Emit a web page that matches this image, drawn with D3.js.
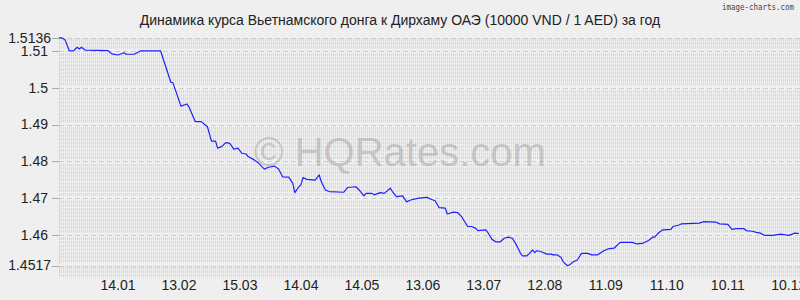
<!DOCTYPE html>
<html><head><meta charset="utf-8">
<script src="https://cdn.jsdelivr.net/npm/d3@7"></script>
<style>html,body{margin:0;padding:0;background:#efefef;}svg{display:block;}</style>
</head><body>
<script>
const titleText = "Динамика курса Вьетнамского донга к Дирхаму ОАЭ (10000 VND / 1 AED) за год";
const watermark = "© HQRates.com";
const brand = "image-charts.com";
// day offsets from 16.12 of previous year
const days = [0,2,3,5,7,9,10,11,13,24,
 26,29,32,33,37,40,50,55,56,60,
 63,64,67,70,73,75,77,78,80,82,
 84,86,88,90,92,93,96,98,101,103,
 106,108,110,113,115,116,118,119,120,122,
 126,128,129,131,133,140,142,146,148,150,
 151,154,155,158,160,163,164,166,169,171,
 173,177,181,183,185,187,190,191,194,196,
 198,201,203,205,206,210,211,213,215,217,
 219,221,223,225,227,228,230,231,233,234,
 235,237,240,242,243,245,247,248,250,251,
 253,255,257,260,262,265,268,270,273,276,
 282,284,287,290,292,293,295,297,301,302,
 305,306,315,317,323,325,329,331,333,337,
 338,341,343,345,347,351,355,359,360,362,
 364];
const rates = [1.5136,1.5134,1.5130,1.5101,1.5100,1.5110,1.5105,1.5110,1.5102,1.5101,
 1.5092,1.5089,1.5095,1.5091,1.5091,1.5100,1.5100,1.5015,1.5014,1.4950,
 1.4956,1.4947,1.4908,1.4908,1.4894,1.4855,1.4855,1.4836,1.4840,1.4851,
 1.4849,1.4833,1.4836,1.4822,1.4820,1.4813,1.4804,1.4796,1.4779,1.4784,
 1.4787,1.4779,1.4758,1.4757,1.4740,1.4715,1.4731,1.4736,1.4756,1.4751,
 1.4749,1.4763,1.4745,1.4722,1.4718,1.4716,1.4729,1.4731,1.4720,1.4706,
 1.4713,1.4713,1.4709,1.4715,1.4713,1.4727,1.4718,1.4704,1.4706,1.4690,
 1.4695,1.4700,1.4702,1.4697,1.4693,1.4674,1.4673,1.4657,1.4662,1.4661,
 1.4650,1.4623,1.4623,1.4618,1.4612,1.4614,1.4606,1.4588,1.4581,1.4581,
 1.4591,1.4594,1.4591,1.4573,1.4550,1.4543,1.4543,1.4548,1.4559,1.4552,
 1.4557,1.4555,1.4548,1.4548,1.4546,1.4546,1.4539,1.4527,1.4517,1.4518,
 1.4527,1.4532,1.4550,1.4550,1.4546,1.4546,1.4557,1.4562,1.4564,1.4580,
 1.4580,1.4576,1.4577,1.4585,1.4594,1.4594,1.4606,1.4614,1.4615,1.4623,
 1.4627,1.4630,1.4632,1.4636,1.4635,1.4630,1.4629,1.4615,1.4617,1.4617,
 1.4612,1.4610,1.4607,1.4605,1.4599,1.4599,1.4602,1.4599,1.4601,1.4605,
 1.4604];
const xTickDays = [29,59,89,119,149,179,209,239,269,299,329,359];
const xTickLabels = ["14.01","13.02","15.03","14.04","14.05","13.06","13.07","12.08","11.09","11.10","10.11","10.12"];
const yTicks = [1.4517,1.46,1.47,1.48,1.49,1.5,1.51,1.5136];
const yTickLabels = ["1.4517","1.46","1.47","1.48","1.49","1.5","1.51","1.5136"];
const yMin = 1.4517, yMax = 1.5136, dayMax = 364;

(function () {
const W = 800, H = 300;
const pLeft = 59, pRight = 799, pTop = 37.7, pBottom = 265.5;
const font = "'Liberation Sans', Arial, sans-serif";

const svg = d3.select("body").append("svg").attr("width", W).attr("height", H);
svg.append("rect").attr("width", W).attr("height", H).attr("fill", "#efefef");

const x = d3.scaleLinear().domain([0, dayMax]).range([pLeft, pRight]);
const y = d3.scaleLinear().domain([yMin, yMax]).range([pBottom, pTop]);

// minor striped rows
const minor = d3.range(1.449, 1.5135, 0.001).filter(v => !yTicks.some(t => Math.abs(y(v) - y(t)) < 1.6));
svg.append("g").selectAll("line").data(minor).join("line")
  .attr("x1", pLeft).attr("x2", W)
  .attr("y1", d => y(d)).attr("y2", d => y(d))
  .attr("stroke", "#d6d6d6").attr("stroke-width", 2.6).attr("stroke-dasharray", "1,1");

// major dashed lines
svg.append("g").selectAll("line").data(yTicks).join("line")
  .attr("x1", pLeft).attr("x2", W)
  .attr("y1", d => Math.round(y(d)) + 0.5).attr("y2", d => Math.round(y(d)) + 0.5)
  .attr("stroke", "#cdcdcd").attr("stroke-width", 1).attr("stroke-dasharray", "5,3");

// left edge
svg.append("line").attr("x1", pLeft + 0.5).attr("x2", pLeft + 0.5)
  .attr("y1", pTop).attr("y2", y(1.449) + 1.5)
  .attr("stroke", "#cccccc").attr("stroke-dasharray", "2,2");

// y ticks
const yAxis = svg.append("g");
yAxis.selectAll("line").data(yTicks).join("line")
  .attr("x1", 52).attr("x2", pLeft)
  .attr("y1", d => Math.round(y(d)) + 0.5).attr("y2", d => Math.round(y(d)) + 0.5)
  .attr("stroke", "#aaaaaa");
yAxis.selectAll("text").data(yTicks).join("text")
  .attr("x", (d, i) => (i === 0 || i === yTicks.length - 1) ? 51 : 48)
  .attr("y", d => y(d)).attr("dy", "0.35em")
  .attr("text-anchor", "end").attr("font-family", font).attr("font-size", 14)
  .attr("fill", "#222").text((d, i) => yTickLabels[i]);

// x labels
svg.append("g").selectAll("text").data(xTickDays).join("text")
  .attr("x", d => x(d)).attr("y", 290)
  .attr("text-anchor", "middle").attr("font-family", font).attr("font-size", 14)
  .attr("fill", "#222").text((d, i) => xTickLabels[i]);

// watermark
svg.append("text").attr("x", 400).attr("y", 166).attr("text-anchor", "middle")
  .attr("font-family", font).attr("font-size", 40).attr("fill", "#9a9a9a").attr("fill-opacity", 0.45)
  .text(watermark);

// line
const data = days.map((d, i) => ({d, v: rates[i]}));
svg.append("path").datum(data)
  .attr("fill", "none").attr("stroke", "#2020ff").attr("stroke-width", 1.2)
  .attr("stroke-linejoin", "round")
  .attr("d", d3.line().x(p => x(p.d)).y(p => y(p.v)));

// title
svg.append("text").attr("x", 400).attr("y", 25).attr("text-anchor", "middle")
  .attr("font-family", font).attr("font-size", 14).attr("fill", "#222").text(titleText);

// brand
svg.append("text").attr("x", 794).attr("y", 10).attr("text-anchor", "end")
  .attr("font-family", "'DejaVu Sans Mono', monospace").attr("font-size", 8.5)
  .attr("textLength", 72).attr("lengthAdjust", "spacingAndGlyphs")
  .attr("fill", "#444").text(brand);
})();
</script>
</body></html>
